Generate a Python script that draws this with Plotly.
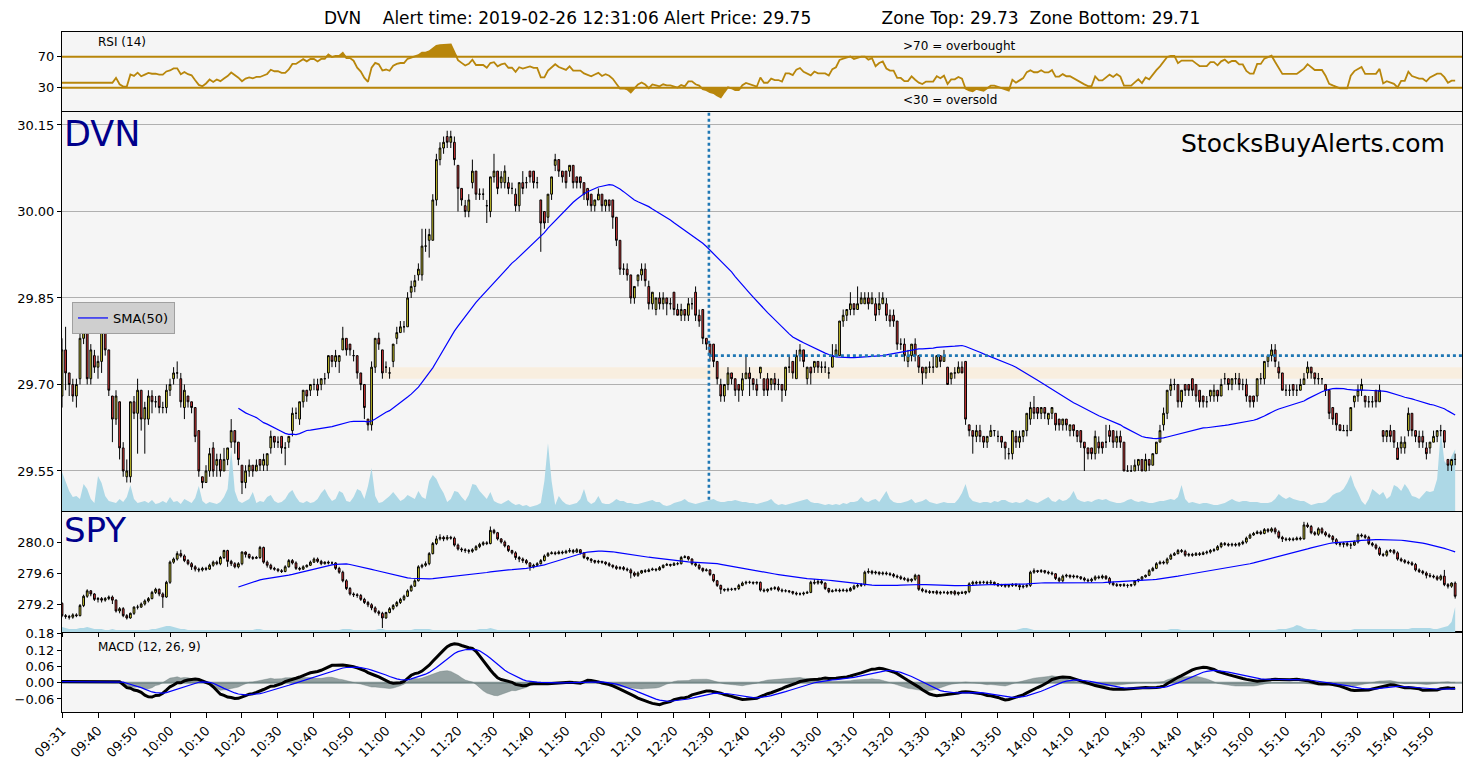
import numpy as np
import pandas as pd
import plotly.graph_objects as go

# ---------------- DATA ----------------
time_labels = ["09:31", "09:40", "09:50", "10:00", "10:10", "10:20", "10:30", "10:40", "10:50", "11:00",
               "11:10", "11:20", "11:30", "11:40", "11:50", "12:00", "12:10", "12:20", "12:30", "12:40",
               "12:50", "13:00", "13:10", "13:20", "13:30", "13:40", "13:50", "14:00", "14:10", "14:20",
               "14:30", "14:40", "14:50", "15:00", "15:10", "15:20", "15:30", "15:40", "15:50"]

# DVN one-minute bars, cents above 29.00
dvn_open = [
    68,76,72,70,68,71,78,79,71,75, 73,74,79,76,68,64,67,59,54,54, 67,65,69,64,64,68,67,68,66,66,
    69,71,72,71,66,68,67,66,62,54, 53,55,59,56,57,55,57,60,62,60, 56,53,55,56,55,57,56,56,59,61,
    60,61,59,60,62,65,64,67,69,69, 70,70,70,71,72,75,74,74,76,78, 77,75,75,72,70,64,63,73,78,76,
    73,72,74,78,79,80,80,86,87,89, 89,94,95,95,102,109,111,113,112,112, 108,104,101,100,105,107,103,103,101,100,
    106,107,105,105,105,104,103,101,105,105, 107,107,105,102,100,99,103,108,109,107, 107,107,108,106,106,105,104,103,101,102,
    103,101,102,102,99,95,90,90,89,85, 88,89,90,87,84,83,85,84,85,84, 86,83,82,83,82,84,86,82,83,78,
    77,77,74,70,68,70,72,71,70,69, 71,72,71,70,72,71,71,70,71,70, 70,69,73,74,71,75,76,71,73,73,
    74,73,73,72,73,75,75,81,82,83, 84,83,84,84,85,84,84,83,84,84, 82,82,81,77,77,74,75,77,75,73,
    72,73,73,73,75,74,73,71,72,72, 73,74,63,62,61,62,61,60,61,62, 61,61,60,58,58,61,60,61,62,64,
    66,66,65,66,64,65,65,64,63,64, 62,63,62,62,60,59,59,58,60,60, 60,62,62,60,61,60,55,55,55,56,
    57,55,57,56,58,60,63,65,69,70, 70,67,70,70,71,70,69,68,67,68, 68,69,68,71,71,70,71,71,70,70,
    68,68,68,71,71,74,75,76,73,72, 69,69,70,69,69,70,72,73,72,71, 71,70,69,66,65,63,62,62,62,67,
    68,69,68,67,67,69,67,62,61,62, 62,59,59,59,62,65,62,61,61,59, 59,60,61,62,62,57,56,57]
dvn_high = [
    78,80,72,71,71,79,81,79,77,76, 75,81,79,76,68,69,67,60,57,67, 68,71,69,67,69,69,68,68,67,70,
    71,73,74,72,70,68,67,66,62,54, 56,59,60,58,58,59,59,64,62,60, 56,56,57,56,57,57,58,58,62,61,
    61,61,60,61,66,66,67,69,69,70, 71,71,71,72,75,75,76,75,80,78, 77,76,75,72,70,64,74,78,79,76,
    74,73,77,80,81,81,86,88,89,91, 97,97,97,103,110,112,113,114,114,113, 108,104,102,103,109,107,104,104,102,106,
    110,107,107,108,106,105,104,105,107,106, 107,107,106,102,100,103,106,110,109,107, 107,108,108,106,106,105,104,103,102,104,
    103,102,102,102,99,95,91,91,89,87, 89,91,91,88,86,85,86,86,85,85, 86,84,84,83,85,85,87,83,83,78,
    77,77,74,71,70,73,72,71,70,72, 75,73,71,71,73,71,72,71,72,71, 70,73,75,74,76,77,76,73,73,74,
    74,74,74,73,77,77,81,83,83,86, 84,87,86,86,86,86,85,86,86,85, 83,83,81,78,78,76,77,78,75,73,
    73,74,75,75,75,76,73,72,73,74, 74,74,63,62,63,63,61,61,63,62, 62,61,60,59,62,62,62,62,65,67,
    68,66,66,66,65,66,65,64,64,64, 63,63,62,62,60,59,59,62,61,60, 63,63,62,62,62,60,56,56,57,57,
    57,58,57,58,60,63,66,69,71,71, 70,69,70,70,71,70,69,68,68,69, 70,69,71,72,71,71,72,72,71,71,
    68,68,71,72,74,75,77,77,74,72, 70,70,70,70,71,72,74,73,72,72, 71,70,69,66,65,63,63,63,66,68,
    70,71,68,68,68,69,70,62,62,63, 62,60,61,61,66,65,62,62,62,60, 60,62,62,63,62,57,57,58]
dvn_low = [
    66,69,68,67,66,70,77,70,70,72, 71,72,75,68,60,63,57,54,53,53, 64,58,62,58,63,65,66,65,65,65,
    68,70,71,66,64,66,65,60,54,52, 53,54,54,54,54,55,56,59,58,56, 51,52,54,54,55,55,55,55,58,59,
    59,58,56,59,61,64,63,66,67,68, 69,68,69,70,71,73,73,72,76,75, 75,74,71,69,64,62,62,72,76,71,
    72,71,73,77,79,79,80,85,86,88, 88,93,92,95,101,108,110,111,111,108, 100,101,99,99,104,102,102,102,98,99,
    105,103,104,104,103,103,100,100,103,104, 105,104,104,93,97,98,102,107,106,105, 104,106,104,104,104,102,101,100,100,102,
    100,100,100,97,94,89,89,88,84,84, 87,88,87,83,83,82,83,83,82,83, 82,82,81,81,81,83,81,80,77,76,
    74,73,70,67,67,69,70,68,67,68, 71,68,69,68,71,68,68,69,69,69, 67,68,72,71,71,74,73,70,70,72,
    72,72,72,71,73,75,75,80,81,82, 82,83,84,84,83,84,81,82,84,81, 80,80,76,76,74,73,74,74,72,70,
    71,72,72,73,73,74,70,70,71,72, 72,63,61,58,60,60,59,59,61,61, 60,59,57,57,57,59,59,60,61,63,
    64,64,64,64,63,64,62,62,62,62, 61,61,60,59,55,57,57,57,58,58, 59,60,59,59,59,55,55,55,55,55,
    55,55,55,56,58,60,62,64,68,69, 66,66,68,68,68,67,66,66,66,67, 67,67,68,70,69,69,70,69,69,67,
    66,66,67,70,70,73,74,73,71,69, 68,68,68,68,69,70,71,71,70,70, 70,68,64,63,62,62,62,61,62,66,
    67,68,66,66,66,66,67,60,60,60, 59,57,58,58,61,61,60,59,59,57, 58,60,60,61,59,55,55,56]
dvn_close = [
    76,72,70,68,70,78,79,71,76,73, 74,80,76,69,64,68,59,55,55,67, 65,69,64,66,68,67,67,66,66,69,
    70,72,72,67,69,67,66,61,55,53, 55,58,55,57,55,57,59,62,60,57, 53,55,56,55,56,56,57,58,61,60,
    60,59,59,61,65,65,67,69,68,70, 70,69,71,71,75,74,75,75,78,76, 76,75,72,70,66,63,73,78,77,72,
    73,72,77,79,80,80,85,87,88,90, 94,94,96,102,109,111,112,112,113,109, 104,102,100,102,107,103,103,103,101,106,
    107,104,106,107,104,104,101,105,104,105, 106,105,105,98,98,103,106,109,107,106, 105,108,105,105,105,103,102,101,102,103,
    101,102,101,99,95,90,90,89,85,87, 89,90,88,84,86,85,84,85,84,84, 83,82,83,82,84,84,82,81,78,77,
    75,74,71,68,70,72,71,69,69,71, 72,71,70,69,73,69,69,71,70,70, 69,73,73,72,75,76,74,73,72,74,
    73,73,73,72,75,76,81,82,83,84, 83,84,85,85,84,85,82,84,85,82, 81,81,77,77,75,75,77,75,73,72,
    73,73,73,75,74,75,70,72,72,73, 72,64,62,61,62,61,60,61,62,62, 61,60,59,58,62,60,61,62,65,66,
    65,65,66,65,65,66,63,63,64,63, 63,62,61,60,59,58,58,61,59,59, 60,61,60,61,60,55,55,55,56,57,
    55,57,56,58,60,62,65,69,70,70, 67,69,69,69,69,68,67,67,67,69, 69,68,70,71,70,71,71,70,70,68,
    67,67,71,71,74,75,76,74,72,69, 69,69,69,69,70,71,73,72,71,71, 71,69,65,64,63,62,62,62,66,68,
    69,70,67,67,67,67,69,61,62,61, 60,57,60,60,65,62,61,60,60,58, 60,61,62,62,60,56,57,57]
# DVN volume (thousand shares)
dvn_volume = [
    39,30,20,14,15,12,27,22,12,8, 35,28,15,10,9,8,12,9,14,26, 12,8,9,10,8,11,7,8,10,8,
    14,9,10,7,12,10,8,13,25,10, 7,9,8,7,9,14,22,62,20,10, 8,10,12,19,8,10,9,14,16,10,
    8,9,12,18,21,14,9,8,10,8, 9,12,18,22,15,10,12,20,18,10, 9,14,22,20,12,25,43,15,8,9,
    12,15,19,14,10,12,16,14,12,20, 14,12,30,36,32,24,18,9,12,20, 19,14,10,16,27,26,20,16,12,19,
    10,8,7,9,11,8,6,7,5,6, 4,5,6,8,30,68,30,6,15,10, 7,6,7,8,12,22,10,7,9,15,
    8,7,7,9,12,10,10,8,8,7, 7,8,9,10,11,9,9,6,5,6, 8,9,10,12,9,8,7,8,9,10,
    11,12,10,9,9,10,10,11,10,9, 9,8,8,7,8,9,10,12,8,6, 7,6,7,8,9,10,11,12,9,8,
    8,7,6,7,6,7,6,8,7,9, 9,10,14,10,9,11,12,9,14,20, 12,9,8,8,9,10,12,8,9,10,
    12,9,8,7,8,9,8,8,8,12, 18,27,14,10,9,8,9,9,8,10, 9,11,11,9,8,9,8,9,12,10,
    9,8,10,12,14,10,9,12,10,11, 14,20,12,10,9,10,9,11,12,11, 12,10,9,8,8,9,11,12,10,9,
    10,9,8,8,9,10,10,11,12,11, 14,26,12,8,9,8,7,8,8,7, 6,6,7,8,10,12,10,9,10,10,
    9,9,9,8,8,8,9,12,17,14, 12,14,12,11,10,10,8,6,7,8, 8,9,12,16,18,19,22,28,36,25,
    18,10,6,12,22,19,16,19,12,15, 26,24,20,27,22,15,14,12,16,20, 19,20,32,80,50,45,55,62]

# SPY one-minute bars, cents above 279.00
spy_open = [
    21,5,4,3,6,5,18,30,37,33, 26,27,25,27,29,25,11,14,5,2, 8,16,16,20,24,27,35,39,33,29,
    48,74,78,85,82,76,72,68,65,64, 66,65,70,74,72,80,89,75,72,68, 72,87,84,80,79,80,93,74,70,66,
    65,63,62,68,76,73,66,65,68,70, 74,78,75,72,74,73,73,66,61,50, 40,33,32,31,26,22,19,15,10,8,
    2,9,14,18,22,26,30,37,43,50, 68,70,72,85,98,104,106,104,106,105, 96,91,90,89,88,90,94,97,99,98,
    115,112,104,100,95,89,86,80,78,76, 73,68,70,72,76,82,85,86,85,87, 86,88,89,87,90,86,80,78,76,74,
    75,74,72,70,68,66,67,65,64,60, 57,60,63,62,64,65,64,67,70,71, 70,72,72,80,81,78,72,70,66,63,
    64,58,50,44,39,38,39,39,40,44, 47,48,48,47,48,38,37,39,40,41, 38,37,37,36,34,33,33,34,35,48,
    47,49,47,40,36,37,38,37,38,37, 40,43,44,45,61,62,60,61,59,60, 59,58,56,55,53,52,50,52,57,39,
    37,36,35,36,34,35,35,34,36,33, 35,34,36,46,48,47,48,48,47,48, 46,44,45,43,44,45,44,42,43,44,
    61,63,62,63,61,60,59,53,50,56, 57,55,56,55,53,51,50,52,55,54, 56,53,47,45,44,45,44,44,45,50,
    52,55,57,63,66,72,74,73,78,83, 85,89,88,83,84,83,85,84,86,87, 89,90,94,98,97,96,97,96,98,100,
    105,109,111,113,111,116,114,117,113,106, 104,103,104,103,105,104,122,120,112,110, 117,112,109,107,103,98,97,98,96,96,
    100,109,108,106,98,96,92,84,83,88, 89,86,78,76,74,73,71,64,62,60, 57,56,55,52,56,45,43,47]
spy_high = [
    22,7,6,8,8,20,32,39,38,34, 29,29,29,31,31,26,16,16,7,9, 17,19,22,26,29,37,41,40,35,50,
    76,80,88,90,84,78,74,70,67,68, 68,72,76,76,82,90,90,77,74,74, 88,88,85,82,82,95,94,76,72,68,
    66,65,70,78,78,75,68,70,71,76, 80,80,77,75,76,75,74,68,63,52, 42,35,34,33,28,24,21,17,12,10,
    10,16,20,24,28,32,39,45,52,70, 72,75,87,100,108,110,108,109,108,107, 98,93,92,91,92,96,99,101,101,120,
    117,113,105,102,96,90,88,82,80,78, 74,72,74,78,84,87,88,88,89,89, 90,92,91,92,91,87,81,79,77,77,
    76,75,74,71,70,69,69,67,66,62, 62,64,65,66,67,66,69,71,73,72, 74,74,82,83,82,79,74,72,67,66,
    65,59,51,45,40,41,41,41,46,49, 50,50,49,49,49,40,40,42,43,43, 40,39,38,37,36,35,36,37,50,52,
    51,51,48,41,39,40,40,40,40,42, 45,46,47,63,66,64,63,62,62,62, 61,60,58,57,55,54,53,59,58,41,
    39,38,37,38,37,37,37,37,38,36, 37,37,48,50,50,50,50,50,51,49, 47,46,46,45,47,47,46,45,46,63,
    66,64,65,64,63,62,60,55,58,59, 58,58,57,56,55,53,54,57,57,58, 57,55,49,47,46,47,46,46,47,52,
    56,58,65,68,74,76,76,80,85,87, 91,91,90,86,86,87,87,88,89,91, 92,96,100,100,99,99,99,100,102,107,
    111,113,115,115,118,118,119,119,115,108, 106,106,106,107,107,126,125,122,114,119, 119,114,111,109,105,100,100,100,99,102,
    111,111,110,108,100,98,94,86,90,91, 91,88,80,78,76,75,73,66,64,62, 60,58,57,58,64,47,48,49]
spy_low = [
    3,1,0,1,3,4,16,28,30,24, 22,22,23,25,20,9,8,3,0,1, 6,13,15,18,22,26,33,30,15,28,
    46,72,76,80,74,70,64,62,61,62, 63,64,68,70,70,78,68,69,66,66, 70,80,78,77,78,78,72,67,64,63,
    61,60,61,67,71,64,63,64,67,69, 73,73,70,71,71,71,64,59,48,38, 31,29,28,24,20,16,12,8,5,-11,
    1,8,12,16,20,24,29,36,42,49, 66,68,70,84,96,102,101,102,103,94, 89,87,86,85,86,89,92,95,96,97,
    110,102,98,93,87,84,77,74,73,71, 63,66,69,71,75,81,84,83,84,84, 85,86,85,86,84,78,76,73,72,72,
    72,70,68,66,64,64,63,62,53,55, 55,59,60,61,63,62,63,66,69,68, 69,70,71,79,76,70,68,64,61,62,
    56,48,42,33,36,36,37,37,38,43, 45,46,45,45,36,35,35,37,38,36, 35,35,34,32,31,31,31,33,34,45,
    45,45,38,34,35,36,35,36,35,36, 38,41,42,43,59,58,58,57,57,57, 56,54,53,51,50,48,48,50,37,35,
    34,33,33,32,32,33,32,32,31,31, 33,32,34,44,45,45,46,45,45,44, 42,42,41,41,42,42,38,40,41,42,
    59,60,60,59,58,57,51,48,48,54, 53,53,53,51,49,48,48,50,52,52, 51,45,43,42,42,42,41,42,43,48,
    50,54,56,62,65,71,71,71,77,82, 84,86,81,81,81,82,82,83,84,85, 87,89,92,95,94,94,94,94,96,98,
    104,108,110,109,110,112,112,110,104,100, 101,101,101,102,102,103,118,110,108,108, 110,107,105,100,96,94,93,94,91,95,
    98,106,104,96,94,90,82,81,81,86, 84,76,74,72,71,69,62,60,58,53, 54,53,50,50,43,40,41,27]
spy_close = [
    5,4,3,6,5,18,30,37,33,26, 27,25,27,29,25,11,14,5,2,8, 16,16,20,24,27,35,39,33,29,48,
    74,78,85,82,76,72,68,65,64,66, 65,70,74,72,80,89,75,72,68,72, 87,84,80,79,80,93,74,70,66,65,
    63,62,68,76,73,66,65,68,70,74, 78,75,72,74,73,73,66,61,50,40, 33,32,31,26,22,19,15,10,8,2,
    9,14,18,22,26,30,37,43,50,68, 70,72,85,98,104,106,104,106,105,96, 91,90,89,88,90,94,97,99,98,115,
    112,104,100,95,89,86,80,78,76,73, 68,70,72,76,82,85,86,85,87,86, 88,89,87,90,86,80,78,76,74,75,
    74,72,70,68,66,67,65,64,60,57, 60,63,62,64,65,64,67,70,71,70, 72,72,80,81,78,72,70,66,63,64,
    58,50,44,39,38,39,39,40,44,47, 48,48,47,48,38,37,39,40,41,38, 37,37,36,34,33,33,34,35,48,47,
    49,47,40,36,37,38,37,38,37,40, 43,44,45,61,62,60,61,59,60,59, 58,56,55,53,52,50,52,57,39,37,
    36,35,36,34,35,35,34,36,33,35, 34,36,46,48,47,48,48,47,48,46, 44,45,43,44,45,44,42,43,44,61,
    63,62,63,61,60,59,53,50,56,57, 55,56,55,53,51,50,52,55,54,56, 53,47,45,44,45,44,44,45,50,52,
    55,57,63,66,72,74,73,78,83,85, 89,88,83,84,83,85,84,86,87,89, 90,94,98,97,96,97,96,98,100,105,
    109,111,113,111,116,114,117,113,106,104, 103,104,103,105,104,122,120,112,110,117, 112,109,107,103,98,97,98,96,96,100,
    109,108,106,98,96,92,84,83,88,89, 86,78,76,74,73,71,64,62,60,57, 56,55,52,56,45,43,47,30]
spy_volume = [
    5,4,3,3,3,4,4,5,4,3, 3,3,2,2,3,2,2,2,2,2, 2,2,2,2,2,3,3,4,5,6,
    6,5,4,3,3,2,2,2,2,2, 2,2,2,2,2,2,2,2,2,2, 2,2,2,2,3,3,2,2,2,2,
    2,2,2,2,2,2,2,2,2,2, 2,2,2,2,2,2,2,2,3,3, 3,2,2,2,2,2,2,2,3,3,
    2,2,2,2,2,2,2,2,3,3, 3,3,3,2,2,2,2,2,2,2, 2,2,2,2,2,2,3,3,3,4,
    3,2,2,2,2,2,2,2,2,2, 2,2,2,2,2,2,2,2,2,2, 2,2,2,2,2,2,2,2,2,2,
    2,2,2,2,2,2,2,2,2,2, 2,2,2,2,2,2,2,2,2,2, 2,2,2,2,2,2,2,2,2,2,
    2,2,2,2,2,2,2,2,2,2, 2,2,2,2,2,2,2,2,2,2, 2,2,2,2,2,2,2,2,2,2,
    2,2,2,2,2,2,2,2,2,2, 2,2,2,2,2,2,2,2,2,2, 2,2,2,2,2,2,2,2,2,2,
    2,2,2,2,2,2,2,2,2,2, 2,2,2,2,2,2,2,2,2,2, 2,2,2,2,2,2,3,4,4,3,
    2,2,2,2,2,2,2,2,2,2, 2,2,2,2,2,2,2,2,2,2, 2,2,2,2,2,2,2,2,2,2,
    2,2,2,2,2,2,2,2,3,3, 3,2,2,2,2,2,2,2,2,2, 2,2,2,2,2,2,2,2,2,2,
    2,2,2,2,2,2,2,2,3,3, 3,4,5,7,6,4,3,3,3,2, 2,2,2,2,2,2,2,2,2,3,
    3,3,3,3,3,3,3,3,3,3, 3,3,3,3,3,4,4,4,4,4, 4,3,3,4,5,6,10,25]

alert_price = 29.75
zone_top = 29.73
zone_bottom = 29.71

# ---------------- PREP ----------------
lists = [dvn_open, dvn_high, dvn_low, dvn_close, dvn_volume,
         spy_open, spy_high, spy_low, spy_close, spy_volume]
lens = [len(a) for a in lists]
n = min(lens)
idx = np.arange(n)

def px(a, base):
    return (np.array(a[:n], dtype=float) + base) / 100.0

d_o, d_h, d_l, d_c = (px(a, 2900) for a in (dvn_open, dvn_high, dvn_low, dvn_close))
s_o, s_h, s_l, s_c = (px(a, 27900) for a in (spy_open, spy_high, spy_low, spy_close))
d_v = np.array(dvn_volume[:n], dtype=float)
s_v = np.array(spy_volume[:n], dtype=float)

dc = pd.Series(d_c)
sc = pd.Series(s_c)
dvn_sma = dc.rolling(50).mean()
spy_sma = sc.rolling(50).mean()

# RSI(14), Wilder-type smoothing
delta = dc.diff()
gain = delta.clip(lower=0).ewm(alpha=1 / 14, adjust=True, min_periods=14).mean()
loss = (-delta.clip(upper=0)).ewm(alpha=1 / 14, adjust=True, min_periods=14).mean()
rsi = 100 - 100 / (1 + gain / loss.replace(0, np.nan))
rsi = rsi.bfill()

# MACD(12, 26, 9)
fast = dc.rolling(12, min_periods=1).mean()
slow = dc.rolling(26, min_periods=1).mean()
macd = fast - slow
warm = 15
macd.iloc[:warm] = macd.iloc[warm]
signal = macd.ewm(span=9, adjust=False).mean()
hist = macd - signal

# ---------------- FIGURE ----------------
FONT = "DejaVu Sans"
GOLD = "#b8860b"
W, H = 1475, 770
OFF = 8                      # page body margin of the rendered html
PL, PT, PW, PH = 62, 32, 1400, 680   # plot area in page pixels
L, T = PL - OFF, PT - OFF
R, B = W - L - PW, H - T - PH

def fx(p):
    return (p - PL) / PW

def fy(p):
    return (PT + PH - p) / PH

XMAX = 388.9
fig = go.Figure()

# RSI panel
fig.add_trace(go.Scatter(x=idx, y=[70] * n, mode="lines", line=dict(width=0, color=GOLD),
                         xaxis="x2", yaxis="y", showlegend=False, hoverinfo="skip"))
fig.add_trace(go.Scatter(x=idx, y=np.maximum(rsi, 70), mode="lines", line=dict(width=0, color=GOLD),
                         fill="tonexty", fillcolor=GOLD, xaxis="x2", yaxis="y", showlegend=False, hoverinfo="skip"))
fig.add_trace(go.Scatter(x=idx, y=[30] * n, mode="lines", line=dict(width=0, color=GOLD),
                         xaxis="x2", yaxis="y", showlegend=False, hoverinfo="skip"))
fig.add_trace(go.Scatter(x=idx, y=np.minimum(rsi, 30), mode="lines", line=dict(width=0, color=GOLD),
                         fill="tonexty", fillcolor=GOLD, xaxis="x2", yaxis="y", showlegend=False, hoverinfo="skip"))
fig.add_trace(go.Scatter(x=idx, y=rsi, mode="lines", line=dict(width=1.8, color=GOLD),
                         xaxis="x2", yaxis="y", showlegend=False))

# DVN panel: volume (base axis y2), candles + SMA on overlay axis y5
fig.add_trace(go.Scatter(x=idx, y=d_v, mode="lines", line=dict(width=0, color="#add8e6"),
                         fill="tozeroy", fillcolor="#add8e6", xaxis="x3", yaxis="y2",
                         showlegend=False, hoverinfo="skip"))
fig.add_trace(go.Candlestick(x=idx, open=d_o, high=d_h, low=d_l, close=d_c,
                             increasing=dict(fillcolor="#e3dc2e", line=dict(color="black", width=1)),
                             decreasing=dict(fillcolor="#ee3b3b", line=dict(color="black", width=1)),
                             whiskerwidth=0, xaxis="x3", yaxis="y5", showlegend=False))
fig.add_trace(go.Scatter(x=idx, y=dvn_sma, mode="lines", line=dict(width=1.2, color="#0000ff"),
                         name="SMA(50)", xaxis="x3", yaxis="y5", showlegend=True))

# SPY panel
fig.add_trace(go.Scatter(x=idx, y=s_v, mode="lines", line=dict(width=0, color="#add8e6"),
                         fill="tozeroy", fillcolor="#add8e6", xaxis="x4", yaxis="y3",
                         showlegend=False, hoverinfo="skip"))
fig.add_trace(go.Candlestick(x=idx, open=s_o, high=s_h, low=s_l, close=s_c,
                             increasing=dict(fillcolor="#e3dc2e", line=dict(color="black", width=1)),
                             decreasing=dict(fillcolor="#ee3b3b", line=dict(color="black", width=1)),
                             whiskerwidth=0, xaxis="x4", yaxis="y6", showlegend=False))
fig.add_trace(go.Scatter(x=idx, y=spy_sma, mode="lines", line=dict(width=1.2, color="#0000ff"),
                         xaxis="x4", yaxis="y6", showlegend=False))

# MACD panel
fig.add_trace(go.Scatter(x=idx, y=hist, mode="lines", line=dict(width=0.5, color="rgba(95,115,115,0.7)"),
                         fill="tozeroy", fillcolor="rgba(95,115,115,0.65)", xaxis="x", yaxis="y4",
                         showlegend=False, hoverinfo="skip"))
fig.add_trace(go.Scatter(x=idx, y=macd, mode="lines", line=dict(width=3, color="black"),
                         xaxis="x", yaxis="y4", showlegend=False))
fig.add_trace(go.Scatter(x=idx, y=signal, mode="lines", line=dict(width=1.2, color="#0000ff"),
                         xaxis="x", yaxis="y4", showlegend=False))

frame = dict(showline=True, mirror=True, linecolor="black", linewidth=1, zeroline=False, automargin=False)
tickfont = dict(family=FONT, size=13, color="black")

xcommon = dict(range=[0, XMAX], showgrid=False, rangeslider=dict(visible=False), **frame)
ycommon = dict(ticks="outside", ticklen=4, tickcolor="black", tickfont=tickfont, **frame)

fig.update_layout(
    width=W, height=H, margin=dict(l=L, r=R, t=T, b=B, autoexpand=False),
    paper_bgcolor="white", plot_bgcolor="#f5f5f5",
    font=dict(family=FONT, size=13, color="black"),
    xaxis=dict(anchor="y4", tickmode="array", tickvals=list(range(0, 10 * len(time_labels), 10)),
               ticktext=time_labels, tickangle=-45, ticks="outside", ticklen=5, tickcolor="black",
               tickfont=tickfont, **xcommon),
    xaxis2=dict(anchor="y", matches="x", showticklabels=False, ticks="", **xcommon),
    xaxis3=dict(anchor="y2", matches="x", showticklabels=False, ticks="", **xcommon),
    xaxis4=dict(anchor="y3", matches="x", showticklabels=False, ticks="outside", ticklen=4,
                tickcolor="black", tickvals=list(range(0, 10 * len(time_labels), 10)), **xcommon),
    yaxis=dict(domain=[fy(111), 1.0], range=[0, 102], tickvals=[30, 70], ticktext=["30", "70"],
               showgrid=False, anchor="x2", **ycommon),
    yaxis2=dict(domain=[fy(511), fy(112)], range=[0, 400], visible=False, anchor="x3", automargin=False),
    yaxis5=dict(overlaying="y2", anchor="x3", side="left", range=[29.4806, 30.1725],
                tickvals=[29.55, 29.70, 29.85, 30.00, 30.15],
                ticktext=["29.55", "29.70", "29.85", "30.00", "30.15"],
                showgrid=True, gridcolor="#b0b0b0", gridwidth=1, **ycommon),
    yaxis3=dict(domain=[fy(632), fy(512)], range=[0, 120], visible=False, anchor="x4", automargin=False),
    yaxis6=dict(overlaying="y3", anchor="x4", side="left", range=[278.839, 280.387],
                tickvals=[279.2, 279.6, 280.0], ticktext=["279.2", "279.6", "280.0"],
                showgrid=False, **ycommon),
    yaxis4=dict(domain=[0, fy(632)], range=[-0.108, 0.187],
                tickvals=[-0.06, 0.0, 0.06, 0.12, 0.18],
                ticktext=["\u22120.06", "0.00", "0.06", "0.12", "0.18"],
                showgrid=False, anchor="x", **ycommon),
    showlegend=True,
    legend=dict(x=fx(72), y=fy(302), xanchor="left", yanchor="top", bgcolor="#cfcfcf",
                bordercolor="#a0a0a0", borderwidth=1, font=dict(family=FONT, size=13, color="black"),
                itemwidth=30),
)

shapes = [
    dict(type="line", xref="x2", yref="y", x0=0, x1=XMAX, y0=70, y1=70, line=dict(color=GOLD, width=2)),
    dict(type="line", xref="x2", yref="y", x0=0, x1=XMAX, y0=30, y1=30, line=dict(color=GOLD, width=2)),
    dict(type="rect", xref="x3", yref="y5", x0=89, x1=XMAX, y0=zone_bottom, y1=zone_top,
         fillcolor="#f8eedf", line=dict(width=0), layer="below"),
    dict(type="line", xref="x3", yref="y5", x0=179.7, x1=179.7, y0=29.50, y1=30.1725,
         line=dict(color="#1f77b4", width=2.6, dash="dot")),
    dict(type="line", xref="x3", yref="y5", x0=179.7, x1=XMAX, y0=alert_price, y1=alert_price,
         line=dict(color="#1f77b4", width=2.6, dash="dot")),
    dict(type="line", xref="x", yref="y4", x0=0, x1=XMAX, y0=0, y1=0,
         line=dict(color="#8a9b9b", width=2), layer="below"),
]
fig.update_layout(shapes=shapes)

sp = "\u00a0"
title = ("DVN" + sp * 4 + "Alert time: 2019-02-26 12:31:06 Alert Price: 29.75" + sp * 13 +
         "Zone Top: 29.73" + sp * 2 + "Zone Bottom: 29.71")

ann = [
    dict(text=title, x=0.5, y=fy(18), xanchor="center", yanchor="middle", font=dict(size=17)),
    dict(text="RSI (14)", x=fx(96), y=fy(42.5), xanchor="left", yanchor="middle", font=dict(size=12)),
    dict(text=">70 = overbought", x=fx(901), y=fy(45.5), xanchor="left", yanchor="middle", font=dict(size=12)),
    dict(text="<30 = oversold", x=fx(901), y=fy(100), xanchor="left", yanchor="middle", font=dict(size=12)),
    dict(text="DVN", x=fx(62), y=fy(134), xanchor="left", yanchor="middle", font=dict(size=35, color="#00008b")),
    dict(text="SPY", x=fx(62), y=fy(530), xanchor="left", yanchor="middle", font=dict(size=34, color="#00008b")),
    dict(text="StocksBuyAlerts.com", x=fx(1447), y=fy(143), xanchor="right", yanchor="middle",
         font=dict(size=25, color="black")),
    dict(text="MACD (12, 26, 9)", x=fx(96), y=fy(646.5), xanchor="left", yanchor="middle", font=dict(size=12)),
]
if len(set(lens)) != 1:
    ann.append(dict(text="LEN MISMATCH " + str(lens), x=0.5, y=0.5, font=dict(size=20, color="red")))
for a in ann:
    a.update(xref="paper", yref="paper", showarrow=False)
    a["font"] = dict(family=FONT, color=a["font"].get("color", "black"), size=a["font"]["size"])
fig.update_layout(annotations=ann)

fig.write_html("out.html")
